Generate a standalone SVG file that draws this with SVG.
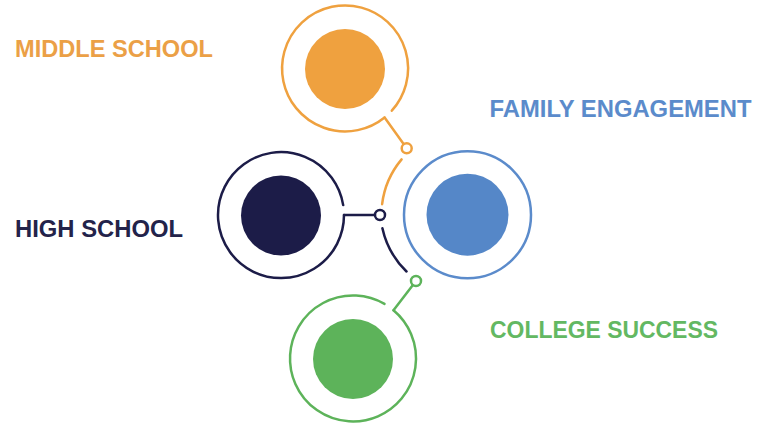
<svg xmlns="http://www.w3.org/2000/svg" width="757" height="425" viewBox="0 0 757 425">
<style>
.ring{fill:none;stroke-width:2.5;stroke-linecap:round}
.con{fill:none;stroke-width:2.5;stroke-linecap:round}
.dot{fill:#fff;stroke-width:2.5}
.lbl{font-family:"Liberation Sans",Arial,sans-serif;font-weight:bold;font-size:23px}
.o{stroke:#EFA13F}.n{stroke:#1C1C48}.b{stroke:#5B8BCB}.g{stroke:#5DB35A}
</style>
<rect width="757" height="425" fill="#fff"/>
<g id="middle-school">
<path class="ring o" d="M384.6 117.5 A63 63 0 1 1 391.8 110.7"/>
<circle cx="345" cy="69" r="40" fill="#EFA13F"/>
<text class="lbl" x="15" y="56.7" fill="#EBA046" textLength="198" lengthAdjust="spacingAndGlyphs">MIDDLE SCHOOL</text>
</g>
<g id="high-school">
<path class="ring n" d="M344 215 A63 63 0 1 1 343.2 205.1"/>
<circle cx="281" cy="215.5" r="40" fill="#1C1C48"/>
<text class="lbl" x="15" y="236.7" fill="#23234A" textLength="168" lengthAdjust="spacingAndGlyphs">HIGH SCHOOL</text>
</g>
<g id="family-engagement">
<circle class="ring b" cx="467.5" cy="214.7" r="63.5"/>
<circle cx="467.5" cy="214.7" r="41" fill="#5587C8"/>
<text class="lbl" x="489.5" y="116.7" fill="#5B8BCB" textLength="262" lengthAdjust="spacingAndGlyphs">FAMILY ENGAGEMENT</text>
</g>
<g id="college-success">
<path class="ring g" d="M393.5 310.2 A63 63 0 1 1 384.5 303.9"/>
<circle cx="353" cy="359" r="40" fill="#5DB35A"/>
<text class="lbl" x="490" y="338.3" fill="#63B862" textLength="228" lengthAdjust="spacingAndGlyphs">COLLEGE SUCCESS</text>
</g>
<g id="connectors">
<line class="con o" x1="384.6" y1="117.5" x2="403.8" y2="144.2"/>
<circle class="dot o" cx="406.7" cy="148.3" r="5"/>
<path class="con o" d="M401.6 159.4 A86 86 0 0 0 382.1 204.2"/>
<line class="con n" x1="344" y1="215" x2="375" y2="215"/>
<circle class="dot n" cx="380" cy="215" r="5"/>
<path class="con n" d="M382.4 228.3 A86 86 0 0 0 406.5 271.5"/>
<line class="con g" x1="393.5" y1="310.2" x2="412.9" y2="285"/>
<circle class="dot g" cx="416" cy="281" r="5"/>
</g>
</svg>
